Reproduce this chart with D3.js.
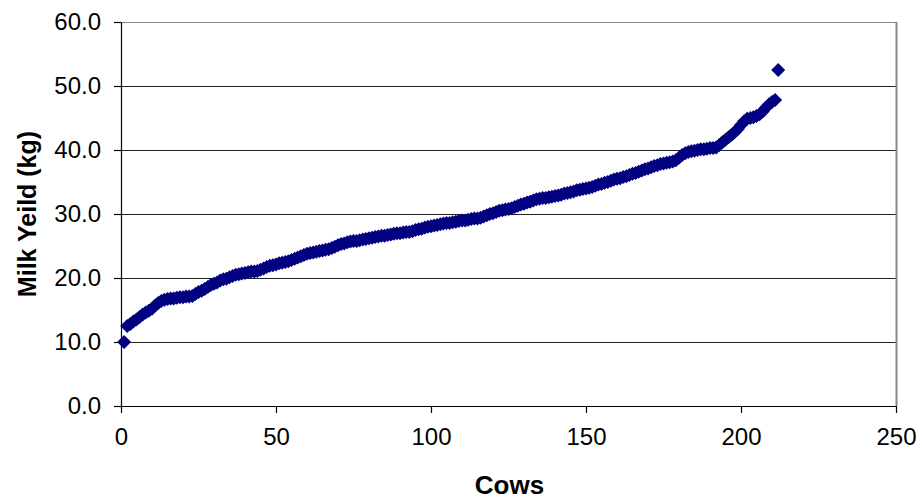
<!DOCTYPE html>
<html>
<head>
<meta charset="utf-8">
<script src="https://cdn.jsdelivr.net/npm/d3@7"></script>
<style>
    body { margin: 0; background: #fff; }
    text { font-family: "Liberation Sans", Arial, sans-serif; }
</style>
</head>
<body>
<div id="vis"></div>
<script>
// milk yield per cow, sorted ascending (cow 1..212)
var yieldKg = [
    10.0, 12.5, 12.8, 13.2, 13.5, 13.9, 14.3, 14.6, 14.9, 15.2,
    15.7, 16.1, 16.4, 16.6, 16.7, 16.8, 16.8, 16.9, 17.0, 17.0,
    17.1, 17.1, 17.2, 17.5, 17.8, 18.0, 18.3, 18.6, 18.9, 19.1,
    19.3, 19.6, 19.8, 19.9, 20.1, 20.3, 20.5, 20.6, 20.7, 20.8,
    20.9, 21.0, 21.0, 21.1, 21.3, 21.5, 21.7, 21.9, 22.0, 22.1,
    22.3, 22.4, 22.5, 22.6, 22.8, 23.0, 23.2, 23.4, 23.6, 23.8,
    23.9, 24.0, 24.1, 24.2, 24.3, 24.4, 24.5, 24.7, 24.9, 25.1,
    25.3, 25.4, 25.6, 25.7, 25.8, 25.8, 25.9, 26.0, 26.1, 26.2,
    26.3, 26.4, 26.5, 26.6, 26.6, 26.7, 26.8, 26.9, 27.0, 27.0,
    27.1, 27.2, 27.2, 27.3, 27.5, 27.6, 27.7, 27.9, 28.0, 28.1,
    28.2, 28.3, 28.4, 28.5, 28.6, 28.6, 28.7, 28.8, 28.9, 29.0,
    29.0, 29.1, 29.2, 29.3, 29.3, 29.4, 29.6, 29.8, 30.0, 30.1,
    30.3, 30.5, 30.6, 30.7, 30.8, 30.9, 31.1, 31.3, 31.5, 31.6,
    31.8, 31.9, 32.1, 32.3, 32.4, 32.5, 32.5, 32.6, 32.7, 32.8,
    32.9, 33.0, 33.2, 33.3, 33.4, 33.5, 33.7, 33.8, 33.9, 34.0,
    34.1, 34.2, 34.4, 34.6, 34.7, 34.9, 35.0, 35.2, 35.4, 35.5,
    35.6, 35.8, 35.9, 36.1, 36.3, 36.4, 36.6, 36.8, 37.0, 37.1,
    37.3, 37.5, 37.6, 37.8, 37.9, 38.0, 38.1, 38.2, 38.4, 38.8,
    39.2, 39.5, 39.7, 39.8, 39.9, 40.0, 40.1, 40.1, 40.2, 40.3,
    40.3, 40.4, 40.8, 41.2, 41.6, 42.0, 42.4, 42.8, 43.3, 43.9,
    44.5, 44.9, 45.0, 45.1, 45.3, 45.6, 46.0, 46.6, 47.1, 47.5,
    47.8, 52.5
];
var cows = yieldKg.map(function(d, i) { return i + 1; });
var xTicks = [0, 50, 100, 150, 200, 250];
var yTicks = [0, 10, 20, 30, 40, 50, 60];
var xTitle = 'Cows';
var yTitle = 'Milk Yeild (kg)';

var data = cows.map(function(c, i) { return {cow: c, kg: yieldKg[i]}; });

var W = 922, H = 500;
var margin = {left: 121, top: 22, right: 26, bottom: 94};
var width = W - margin.left - margin.right;
var height = H - margin.top - margin.bottom;

var svg = d3.select('#vis').append('svg')
    .attr('width', W)
    .attr('height', H);

var xScale = d3.scaleLinear().domain([0, 250]).range([0, width]);
var yScale = d3.scaleLinear().domain([0, 60]).range([height, 0]);

var g = svg.append('g')
    .attr('transform', 'translate(' + margin.left + ',' + margin.top + ')');

// gridlines
g.selectAll('.grid').data(yTicks.filter(function(t) { return t > 0; }))
    .enter().append('line')
    .attr('class', 'grid')
    .attr('x1', 0).attr('x2', width)
    .attr('y1', function(d) { return yScale(d) + 0.5; })
    .attr('y2', function(d) { return yScale(d) + 0.5; })
    .attr('stroke', '#222')
    .attr('stroke-width', 1);

// plot border (grey)
g.append('line')
    .attr('x1', width + 0.5).attr('x2', width + 0.5)
    .attr('y1', 0).attr('y2', height)
    .attr('stroke', '#888')
    .attr('stroke-width', 2);
g.append('line')
    .attr('x1', 0).attr('x2', width)
    .attr('y1', 0.5).attr('y2', 0.5)
    .attr('stroke', '#888')
    .attr('stroke-width', 1);

var xAxis = d3.axisBottom(xScale).tickValues(xTicks).tickSize(7).tickSizeOuter(0)
    .tickFormat(d3.format('d'));
var yAxis = d3.axisLeft(yScale).tickValues(yTicks).tickSize(7).tickSizeOuter(0)
    .tickFormat(d3.format('.1f'));

var gx = g.append('g')
    .attr('transform', 'translate(0,' + height + ')')
    .call(xAxis);
var gy = g.append('g').call(yAxis);

[gx, gy].forEach(function(a) {
    a.selectAll('path, line').attr('stroke', '#000').attr('stroke-width', 1.2);
    a.selectAll('text')
        .attr('fill', '#000')
        .style('font-size', '24px')
        .style('font-family', '"Liberation Sans", Arial, sans-serif');
});
gx.selectAll('text').attr('dy', '0.71em').attr('y', 22);
gy.selectAll('text').attr('x', -20);

// points
var r = 7;
var diamond = 'M0,' + (-r) + 'L' + r + ',0L0,' + r + 'L' + (-r) + ',0Z';
g.selectAll('.pt').data(data)
    .enter().append('path')
    .attr('class', 'pt')
    .attr('d', diamond)
    .attr('transform', function(d) {
        return 'translate(' + xScale(d.cow) + ',' + yScale(d.kg) + ')';
    })
    .attr('fill', '#000080');

// axis titles
svg.append('text')
    .attr('x', margin.left + width / 2 + 1)
    .attr('y', 494)
    .attr('text-anchor', 'middle')
    .style('font-size', '26px')
    .style('font-weight', 'bold')
    .text(xTitle);

svg.append('text')
    .attr('transform', 'translate(' + 36 + ',' + (margin.top + height / 2) + ')rotate(-90)')
    .attr('text-anchor', 'middle')
    .style('font-size', '25px')
    .style('font-weight', 'bold')
    .text(yTitle);
</script>
</body>
</html>
